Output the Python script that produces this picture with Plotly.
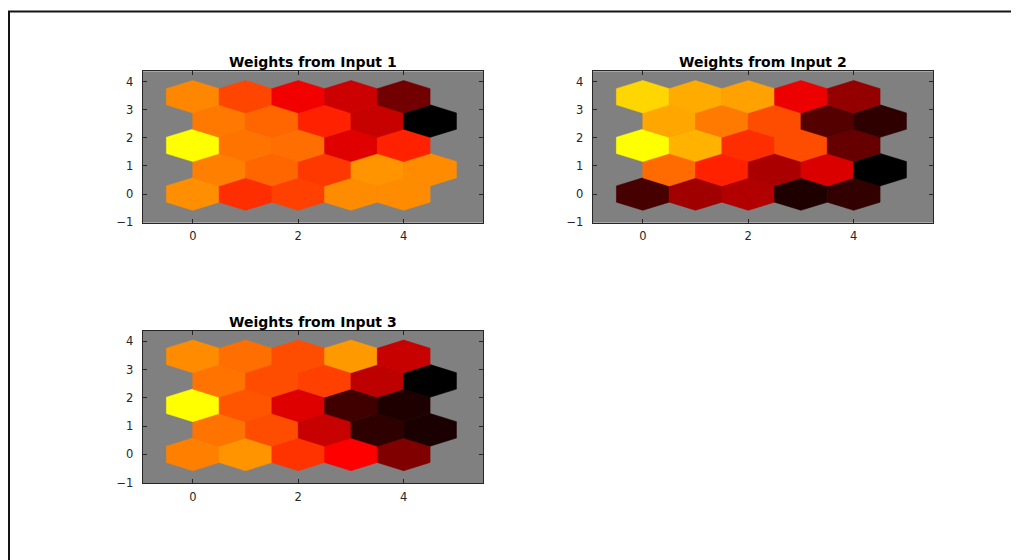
import math
import plotly.graph_objects as go
from plotly.colors import sample_colorscale

W, H = 1019, 560
OFF = 8  # page body margin offset compensation

titles = ["Weights from Input 1", "Weights from Input 2", "Weights from Input 3"]

# normalized weight levels (0..1), rows listed bottom (row 0) to top (row 4), columns 0..4
input1 = [
    [0.78, 0.59, 0.625, 0.775, 0.775],
    [0.75, 0.70, 0.61, 0.79, 0.775],
    [1.00, 0.725, 0.715, 0.44, 0.565],
    [0.735, 0.70, 0.565, 0.39, 0.00],
    [0.765, 0.635, 0.475, 0.40, 0.225],
]
input2 = [
    [0.14, 0.315, 0.35, 0.06, 0.10],
    [0.71, 0.565, 0.335, 0.43, 0.00],
    [1.00, 0.85, 0.59, 0.65, 0.20],
    [0.825, 0.74, 0.65, 0.165, 0.09],
    [0.92, 0.835, 0.815, 0.465, 0.29],
]
input3 = [
    [0.75, 0.79, 0.60, 0.50, 0.25],
    [0.725, 0.65, 0.39, 0.09, 0.05],
    [1.00, 0.665, 0.435, 0.125, 0.06],
    [0.725, 0.65, 0.625, 0.37, 0.00],
    [0.775, 0.715, 0.65, 0.80, 0.39],
]
planes = [input1, input2, input3]

x_ticks = [0, 2, 4]
y_ticks = [-1, 0, 1, 2, 3, 4]
y_tick_text = ["\u22121", "0", "1", "2", "3", "4"]

# black -> red -> yellow colormap
cscale = [[0.0, "rgb(0,0,0)"], [0.5, "rgb(255,0,0)"], [1.0, "rgb(255,255,0)"]]

# panel pixel boxes in the screenshot (left, right, top, bottom)
boxes = [
    (142.7, 483.3, 72, 225),
    (592.7, 933.3, 72, 225),
    (142.7, 483.3, 334.3, 488.3),
]

fig = go.Figure()
r = 1 / math.sqrt(3)
hex_dx = [0, 0.5, 0.5, 0, -0.5, -0.5, 0]
hex_dy = [r, r / 2, -r / 2, -r, -r / 2, r / 2, r]

for p, plane in enumerate(planes):
    xa = "x" if p == 0 else f"x{p+1}"
    ya = "y" if p == 0 else f"y{p+1}"
    for row, vals in enumerate(plane):
        cols = sample_colorscale(cscale, vals)
        for c, (v, col) in enumerate(zip(vals, cols)):
            cx = c + 0.5 * (row % 2)
            cy = row * math.sqrt(0.75)
            fig.add_trace(go.Scatter(
                x=[cx + d for d in hex_dx], y=[cy + d for d in hex_dy],
                mode="lines", fill="toself", fillcolor=col,
                line=dict(width=0.6, color=col), hoverinfo="skip",
                showlegend=False, xaxis=xa, yaxis=ya))


def px(v):
    return (v - OFF) / W


def py(v):
    return 1 - (v - OFF) / H


FONT = "DejaVu Sans, Liberation Sans, Arial, sans-serif"
layout = dict(width=W, height=H, margin=dict(l=0, r=0, t=0, b=0),
              paper_bgcolor="white", plot_bgcolor="rgb(128,128,128)",
              font=dict(family=FONT, size=11, color="rgb(38,38,38)"),
              showlegend=False)
annotations = []
for p, (l, rr, t, b) in enumerate(boxes):
    sx = "" if p == 0 else str(p + 1)
    layout[f"xaxis{sx}"] = dict(
        domain=[px(l), px(rr)], range=[-0.95, 5.51], tickvals=x_ticks,
        ticks="inside", ticklen=4, tickcolor="rgb(38,38,38)", showline=True,
        linecolor="rgb(38,38,38)", linewidth=1, mirror="ticks", showgrid=False,
        zeroline=False, anchor=f"y{sx}", tickfont=dict(size=11.5, color="rgb(38,38,38)"),
        ticklabelstandoff=3, fixedrange=True)
    layout[f"yaxis{sx}"] = dict(
        domain=[py(b), py(t)], range=[-1.02, 4.37], tickvals=y_ticks,
        ticktext=y_tick_text,
        ticks="inside", ticklen=4, tickcolor="rgb(38,38,38)", showline=True,
        linecolor="rgb(38,38,38)", linewidth=1, mirror="ticks", showgrid=False,
        zeroline=False, anchor=f"x{sx}", tickfont=dict(size=11.5, color="rgb(38,38,38)"),
        ticklabelstandoff=6, fixedrange=True)
    annotations.append(dict(
        text=f"<b>{titles[p]}</b>", x=px((l + rr) / 2), y=py(t + 1),
        xref="paper", yref="paper", xanchor="center", yanchor="bottom",
        showarrow=False, font=dict(family=FONT, size=14, color="black")))
layout["annotations"] = annotations
layout["shapes"] = [dict(type="rect", xref="paper", yref="paper",
                         x0=px(9), x1=px(1060), y0=py(640), y1=py(11.5),
                         line=dict(color="rgb(20,20,20)", width=2))]
fig.update_layout(**layout)
fig.write_html("out.html")
